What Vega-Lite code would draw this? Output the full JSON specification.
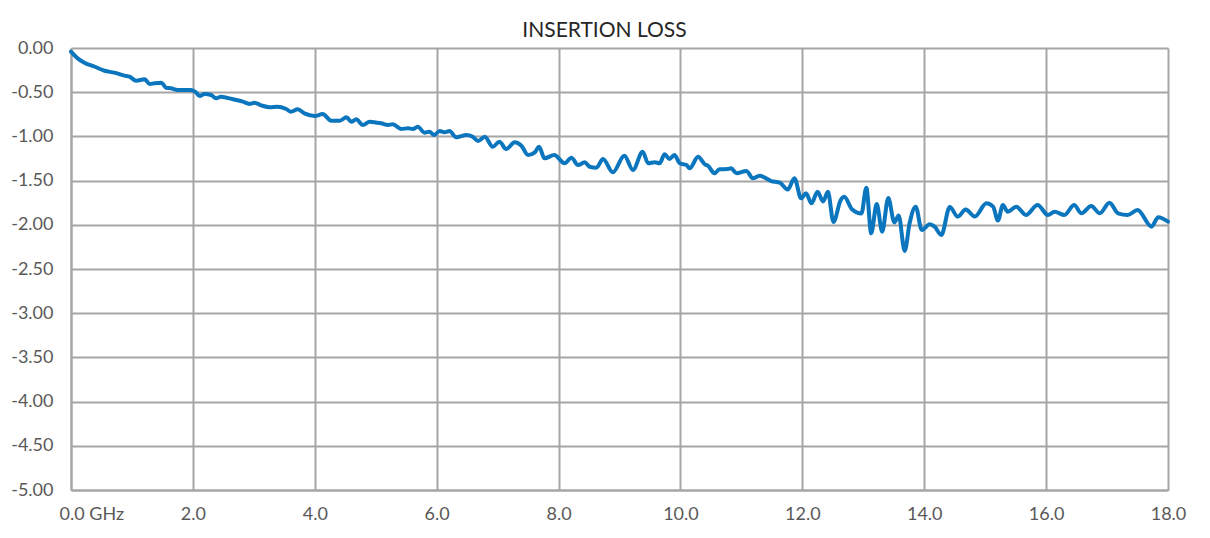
{
  "$schema": "https://vega.github.io/schema/vega-lite/v6.json",
  "width": 1097,
  "height": 442,
  "autosize": {"type": "none"},
  "padding": {"left": 71, "top": 48, "right": 42, "bottom": 48},
  "background": "white",
  "title": {
    "text": "INSERTION LOSS",
    "font": "Lato",
    "fontSize": 21,
    "fontWeight": "normal",
    "color": "#262626",
    "offset": -2,
    "dx": -15
  },
  "config": {
    "view": {"stroke": null},
    "axis": {
      "labelFont": "Lato",
      "labelFontSize": 18,
      "labelColor": "#595959",
      "gridColor": "#A6A6A6",
      "gridWidth": 2,
      "domainColor": "#A6A6A6",
      "domainWidth": 2,
      "ticks": false,
      "title": null
    }
  },
  "data": {
    "values": [
      {"f": 0.00, "v": -0.04},
      {"f": 0.11, "v": -0.117},
      {"f": 0.22, "v": -0.166},
      {"f": 0.39, "v": -0.212},
      {"f": 0.55, "v": -0.257},
      {"f": 0.71, "v": -0.279},
      {"f": 0.88, "v": -0.313},
      {"f": 0.96, "v": -0.325},
      {"f": 1.07, "v": -0.370},
      {"f": 1.21, "v": -0.354},
      {"f": 1.29, "v": -0.407},
      {"f": 1.37, "v": -0.399},
      {"f": 1.48, "v": -0.393},
      {"f": 1.56, "v": -0.449},
      {"f": 1.64, "v": -0.456},
      {"f": 1.75, "v": -0.475},
      {"f": 1.97, "v": -0.475},
      {"f": 2.05, "v": -0.501},
      {"f": 2.11, "v": -0.543},
      {"f": 2.19, "v": -0.520},
      {"f": 2.30, "v": -0.532},
      {"f": 2.38, "v": -0.569},
      {"f": 2.46, "v": -0.551},
      {"f": 2.66, "v": -0.580},
      {"f": 2.82, "v": -0.607},
      {"f": 2.93, "v": -0.633},
      {"f": 3.01, "v": -0.619},
      {"f": 3.12, "v": -0.648},
      {"f": 3.26, "v": -0.671},
      {"f": 3.39, "v": -0.664},
      {"f": 3.53, "v": -0.690},
      {"f": 3.61, "v": -0.721},
      {"f": 3.72, "v": -0.693},
      {"f": 3.83, "v": -0.739},
      {"f": 4.00, "v": -0.769},
      {"f": 4.13, "v": -0.747},
      {"f": 4.27, "v": -0.822},
      {"f": 4.41, "v": -0.822},
      {"f": 4.52, "v": -0.784},
      {"f": 4.60, "v": -0.834},
      {"f": 4.68, "v": -0.807},
      {"f": 4.79, "v": -0.871},
      {"f": 4.90, "v": -0.834},
      {"f": 5.03, "v": -0.845},
      {"f": 5.09, "v": -0.852},
      {"f": 5.20, "v": -0.871},
      {"f": 5.28, "v": -0.863},
      {"f": 5.42, "v": -0.916},
      {"f": 5.53, "v": -0.908},
      {"f": 5.61, "v": -0.916},
      {"f": 5.69, "v": -0.890},
      {"f": 5.80, "v": -0.958},
      {"f": 5.88, "v": -0.947},
      {"f": 5.96, "v": -0.984},
      {"f": 6.05, "v": -0.939},
      {"f": 6.13, "v": -0.954},
      {"f": 6.21, "v": -0.939},
      {"f": 6.32, "v": -1.010},
      {"f": 6.49, "v": -0.984},
      {"f": 6.59, "v": -1.003},
      {"f": 6.68, "v": -1.052},
      {"f": 6.79, "v": -1.003},
      {"f": 6.92, "v": -1.117},
      {"f": 7.03, "v": -1.060},
      {"f": 7.14, "v": -1.143},
      {"f": 7.28, "v": -1.067},
      {"f": 7.39, "v": -1.105},
      {"f": 7.50, "v": -1.210},
      {"f": 7.61, "v": -1.180},
      {"f": 7.68, "v": -1.117},
      {"f": 7.77, "v": -1.248},
      {"f": 7.93, "v": -1.210},
      {"f": 8.10, "v": -1.304},
      {"f": 8.21, "v": -1.241},
      {"f": 8.32, "v": -1.324},
      {"f": 8.43, "v": -1.293},
      {"f": 8.51, "v": -1.343},
      {"f": 8.62, "v": -1.354},
      {"f": 8.73, "v": -1.256},
      {"f": 8.89, "v": -1.406},
      {"f": 9.08, "v": -1.218},
      {"f": 9.22, "v": -1.380},
      {"f": 9.38, "v": -1.173},
      {"f": 9.47, "v": -1.304},
      {"f": 9.58, "v": -1.293},
      {"f": 9.66, "v": -1.304},
      {"f": 9.74, "v": -1.202},
      {"f": 9.82, "v": -1.256},
      {"f": 9.90, "v": -1.210},
      {"f": 9.99, "v": -1.304},
      {"f": 10.10, "v": -1.324},
      {"f": 10.15, "v": -1.361},
      {"f": 10.29, "v": -1.230},
      {"f": 10.40, "v": -1.316},
      {"f": 10.45, "v": -1.331},
      {"f": 10.56, "v": -1.417},
      {"f": 10.64, "v": -1.372},
      {"f": 10.78, "v": -1.369},
      {"f": 10.83, "v": -1.361},
      {"f": 10.92, "v": -1.417},
      {"f": 11.08, "v": -1.391},
      {"f": 11.19, "v": -1.474},
      {"f": 11.30, "v": -1.445},
      {"f": 11.49, "v": -1.505},
      {"f": 11.63, "v": -1.524},
      {"f": 11.76, "v": -1.601},
      {"f": 11.87, "v": -1.474},
      {"f": 11.98, "v": -1.700},
      {"f": 12.06, "v": -1.644},
      {"f": 12.15, "v": -1.757},
      {"f": 12.25, "v": -1.626},
      {"f": 12.34, "v": -1.736},
      {"f": 12.42, "v": -1.626},
      {"f": 12.51, "v": -1.968},
      {"f": 12.63, "v": -1.719},
      {"f": 12.69, "v": -1.682},
      {"f": 12.81, "v": -1.821},
      {"f": 12.97, "v": -1.871},
      {"f": 13.05, "v": -1.580},
      {"f": 13.13, "v": -2.096},
      {"f": 13.22, "v": -1.765},
      {"f": 13.31, "v": -2.078},
      {"f": 13.41, "v": -1.697},
      {"f": 13.51, "v": -1.974},
      {"f": 13.58, "v": -1.895},
      {"f": 13.68, "v": -2.296},
      {"f": 13.76, "v": -1.983},
      {"f": 13.86, "v": -1.795},
      {"f": 13.96, "v": -2.059},
      {"f": 14.09, "v": -1.994},
      {"f": 14.17, "v": -2.021},
      {"f": 14.28, "v": -2.115},
      {"f": 14.42, "v": -1.799},
      {"f": 14.55, "v": -1.908},
      {"f": 14.68, "v": -1.827},
      {"f": 14.83, "v": -1.906},
      {"f": 15.02, "v": -1.757},
      {"f": 15.13, "v": -1.795},
      {"f": 15.21, "v": -1.951},
      {"f": 15.29, "v": -1.776},
      {"f": 15.37, "v": -1.852},
      {"f": 15.51, "v": -1.795},
      {"f": 15.67, "v": -1.889},
      {"f": 15.86, "v": -1.776},
      {"f": 16.03, "v": -1.889},
      {"f": 16.14, "v": -1.852},
      {"f": 16.30, "v": -1.889},
      {"f": 16.46, "v": -1.776},
      {"f": 16.58, "v": -1.870},
      {"f": 16.74, "v": -1.787},
      {"f": 16.88, "v": -1.870},
      {"f": 17.04, "v": -1.750},
      {"f": 17.18, "v": -1.870},
      {"f": 17.34, "v": -1.889},
      {"f": 17.50, "v": -1.833},
      {"f": 17.73, "v": -2.021},
      {"f": 17.84, "v": -1.915},
      {"f": 18.00, "v": -1.964}
    ]
  },
  "mark": {
    "type": "line",
    "interpolate": "monotone",
    "color": "#0B76BE",
    "strokeWidth": 4,
    "strokeCap": "round",
    "strokeJoin": "round"
  },
  "encoding": {
    "x": {
      "field": "f",
      "type": "quantitative",
      "scale": {"domain": [0, 18], "nice": false, "zero": false},
      "axis": {
        "values": [0, 2, 4, 6, 8, 10, 12, 14, 16, 18],
        "labelExpr": "datum.value == 0 ? '0.0 GHz' : format(datum.value, '.1f')",
        "labelPadding": 15,
        "labelFlush": false,
        "labelAlign": {"condition": {"test": "datum.value == 0", "value": "left"}, "value": "center"},
        "labelOffset": {"condition": {"test": "datum.value == 0", "value": -12}, "value": 0}
      }
    },
    "y": {
      "field": "v",
      "type": "quantitative",
      "scale": {"domain": [-5, 0], "nice": false, "zero": false},
      "axis": {
        "values": [0, -0.5, -1, -1.5, -2, -2.5, -3, -3.5, -4, -4.5, -5],
        "labelExpr": "replace(format(datum.value, '.2f'), '\u2212', '-')",
        "labelPadding": 18
      }
    }
  }
}
